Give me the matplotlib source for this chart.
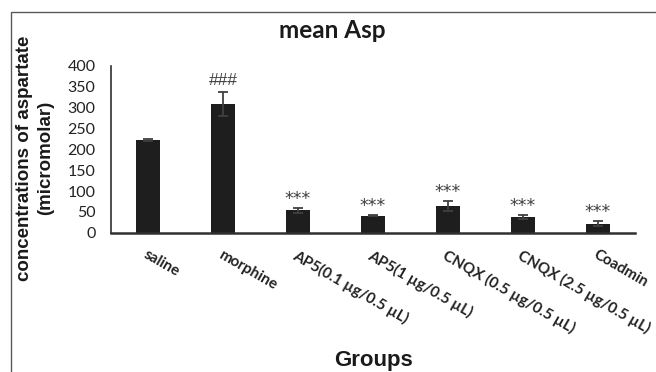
import matplotlib
matplotlib.use("Agg")
import matplotlib.pyplot as plt
from matplotlib.patches import Rectangle

# data
groups = ["saline", "morphine", "AP5(0.1 µg/0.5 µL)", "AP5(1 µg/0.5 µL)",
          "CNQX (0.5 µg/0.5 µL)", "CNQX (2.5 µg/0.5 µL)", "Coadmin"]
means = [222, 309, 54, 41, 64, 38, 22]
errors = [2, 28, 6, 2, 12, 5, 5]
marks = ["", "###", "***", "***", "***", "***", "***"]
yticks = [0, 50, 100, 150, 200, 250, 300, 350, 400]

fig = plt.figure(figsize=(6.56, 3.72), dpi=100)
ax = fig.add_axes([0.1688, 0.3745, 0.968 - 0.1688, 0.8226 - 0.3745])

x = list(range(len(groups)))
ax.bar(x, means, width=0.32, color="#1e1e1e", zorder=2)
ax.errorbar(x, means, yerr=errors, fmt="none", ecolor="#404040",
            elinewidth=1.3, capsize=3.5, capthick=1.3, zorder=3)

for xi, m, e, t in zip(x, means, errors, marks):
    if t == "###":
        ax.annotate(t, (xi, m + e), xytext=(0, 3), textcoords="offset points",
                    ha="center", va="bottom", fontsize=12.5, color="#404040",
                    family="Liberation Sans")
    elif t:
        ax.annotate(t, (xi, m + e), xytext=(0, 0), textcoords="offset points",
                    ha="center", va="bottom", fontsize=12.5, color="#404040",
                    family="DejaVu Sans")

ax.set_xlim(-0.5, 6.5)
ax.set_ylim(0, 400)
ax.set_yticks(yticks)
ax.set_yticklabels([str(v) for v in yticks], family="Lato", fontsize=11.5,
                   color="#222222")
ax.set_xticks(x)
ax.set_xticklabels(groups, rotation=-30, ha="left", va="top",
                   rotation_mode="anchor", family="Lato", fontweight="bold",
                   fontsize=11, color="#222222")
ax.tick_params(axis="y", length=0, pad=11)
ax.tick_params(axis="x", length=0, pad=11)

for s in ["top", "right"]:
    ax.spines[s].set_visible(False)
ax.spines["left"].set_color("#303030")
ax.spines["left"].set_linewidth(1.2)
ax.spines["bottom"].set_color("#303030")
ax.spines["bottom"].set_linewidth(1.8)

fig.text(0.506, 0.919, "mean Asp", ha="center", va="center",
         family="Lato", fontweight="bold", fontsize=17.5, color="#1a1a1a")
fig.text(0.0534, 0.575, "concentrations of aspartate\n(micromolar)",
         rotation=90, ha="center", va="center", multialignment="center",
         family="Liberation Sans", fontweight="bold", fontsize=13.5,
         linespacing=1.25, color="#1a1a1a")
fig.text(0.5686, 0.032, "Groups", ha="center", va="center",
         family="Liberation Sans", fontweight="bold", fontsize=16,
         color="#1a1a1a")

# outer chart frame, cropped at right and bottom in the reference
fig.patches.append(Rectangle((11 / 656, -0.2), 1.5, 0.2 + 1 - 12 / 372,
                             transform=fig.transFigure, fill=False,
                             edgecolor="#595959", linewidth=1))

fig.savefig("out.png", dpi=100)
